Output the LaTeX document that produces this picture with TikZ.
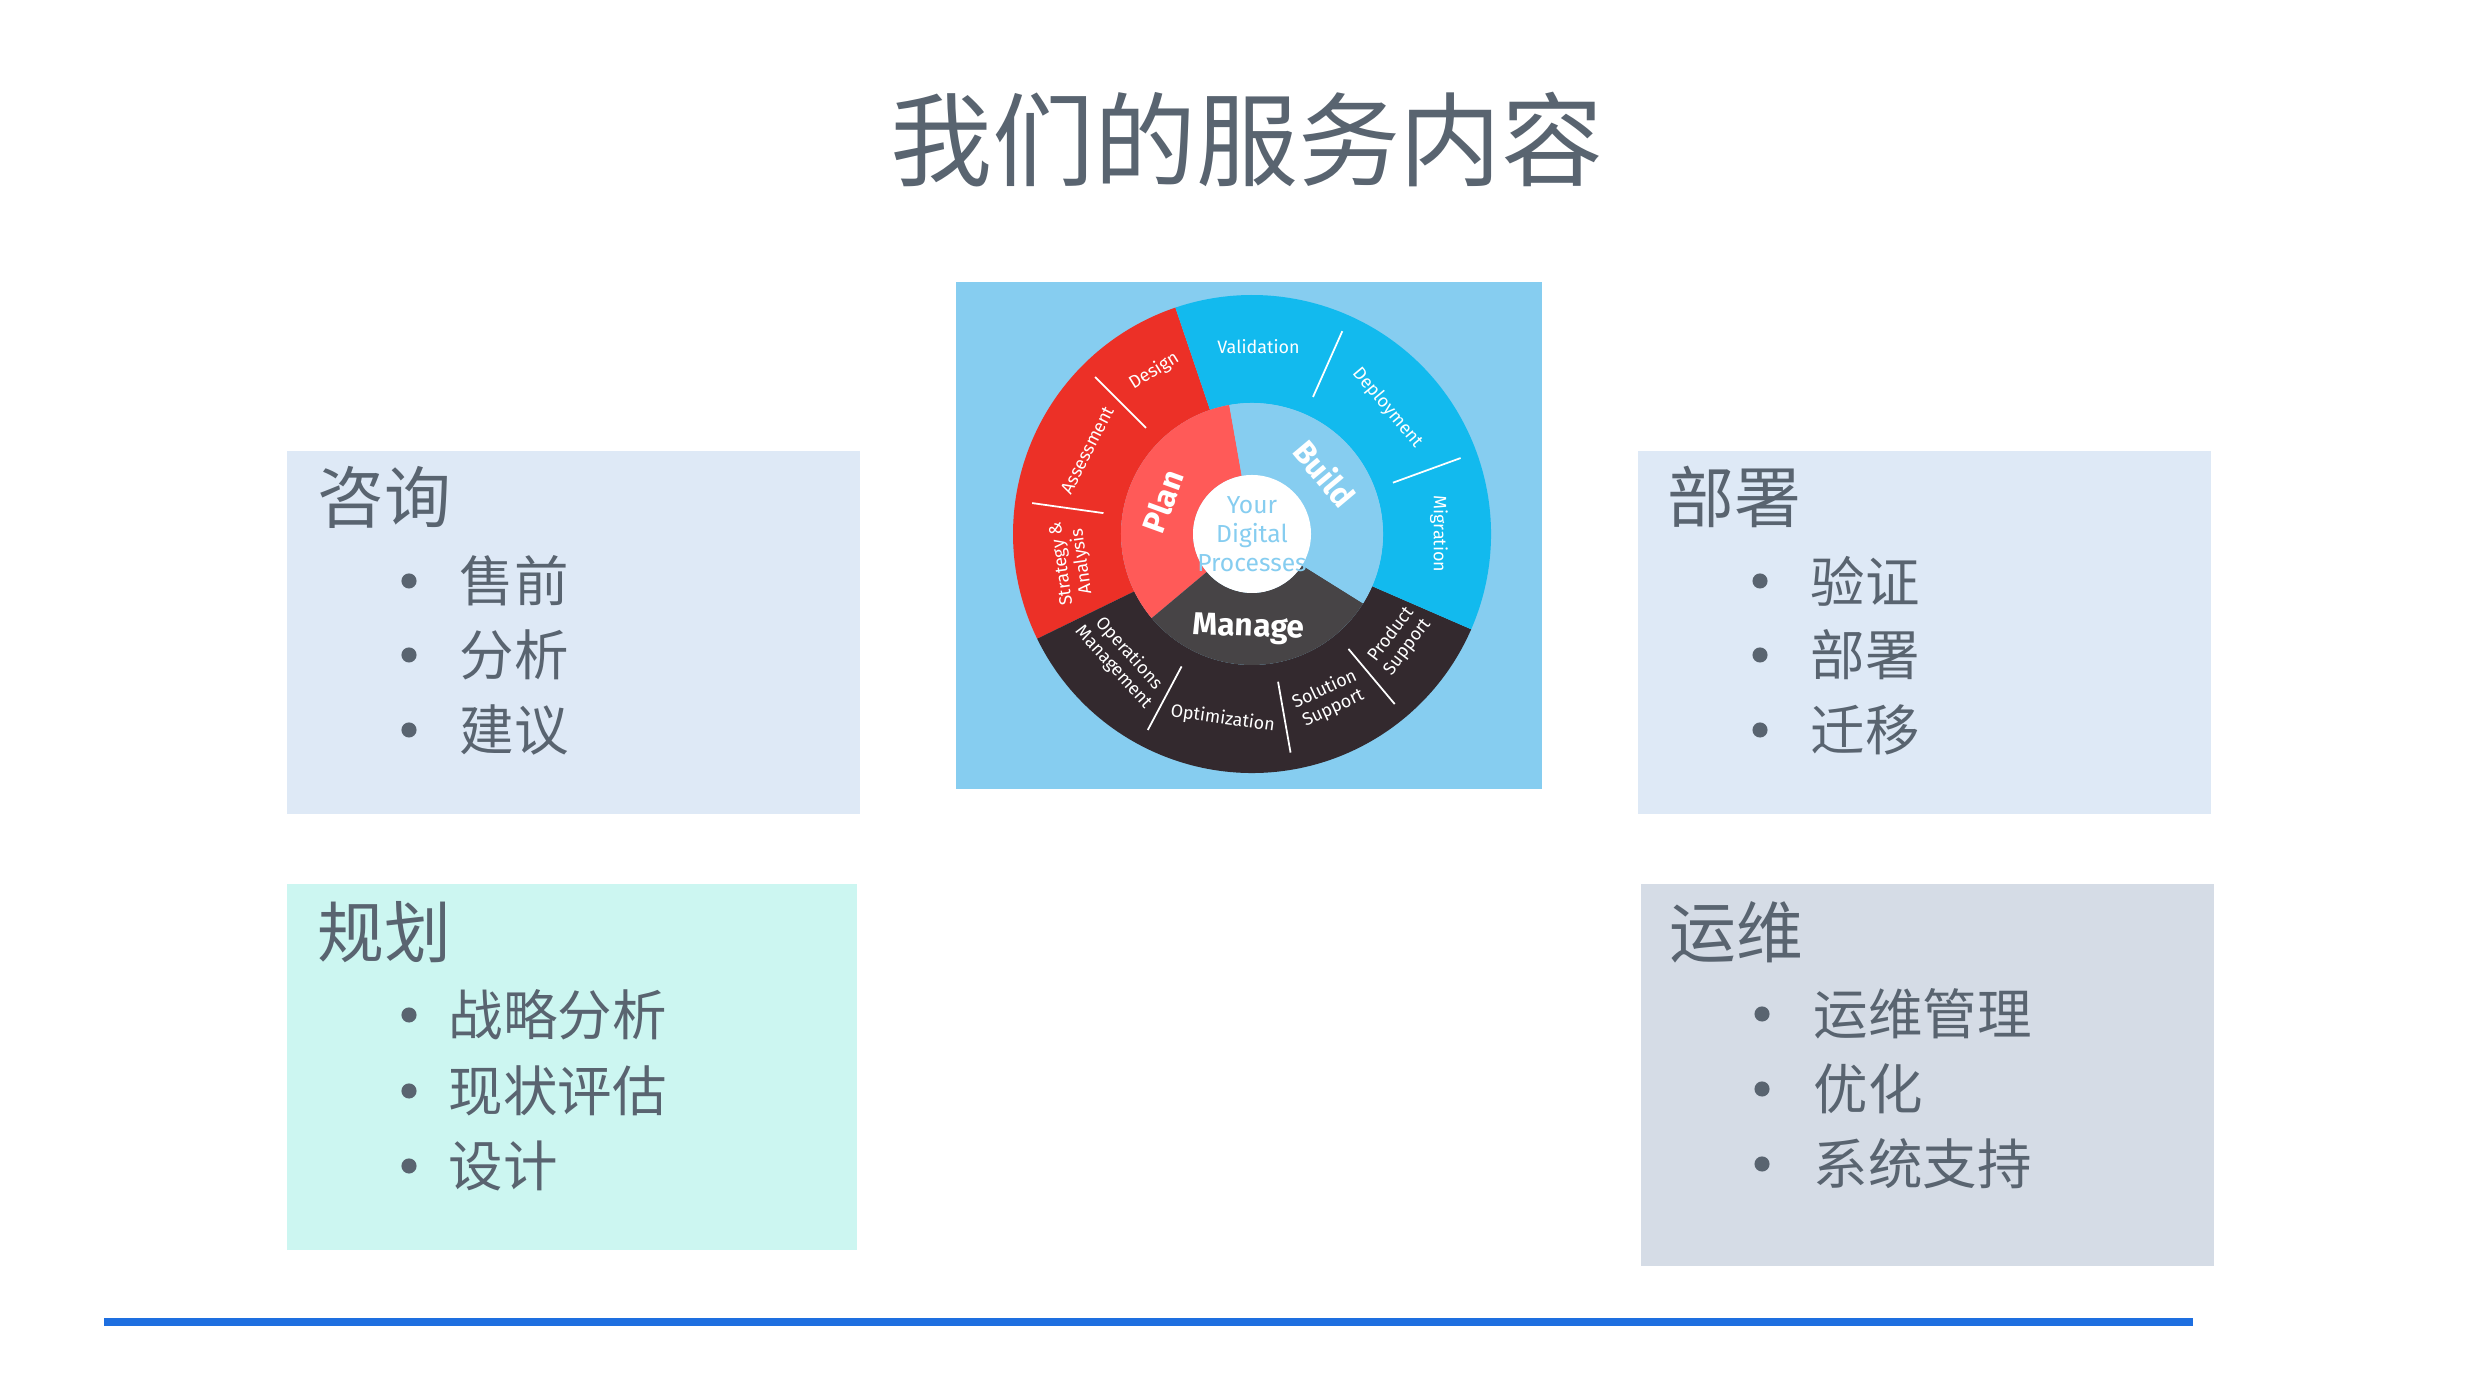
\documentclass[tikz,border=0pt]{standalone}
\usepackage{fontspec}
\setmainfont{Fira Sans}
\newfontfamily\cjk{Noto Sans CJK SC}
\usetikzlibrary{calc}
\definecolor{titlec}{HTML}{596470}
\definecolor{boxa}{HTML}{DEE9F6}
\definecolor{boxb}{HTML}{CCF6F1}
\definecolor{boxc}{HTML}{D5DCE6}
\definecolor{wbg}{HTML}{86CDF0}
\definecolor{wred}{HTML}{EC3027}
\definecolor{wred2}{HTML}{FF5A58}
\definecolor{wblue}{HTML}{12BAEE}
\definecolor{wblue2}{HTML}{86CDF0}
\definecolor{wdark}{HTML}{33292E}
\definecolor{wdark2}{HTML}{474446}
\definecolor{linec}{HTML}{1E6FE0}
\tikzset{
 head/.style={font=\cjk\fontsize{19}{23}\selectfont, text=titlec, anchor=west, inner sep=0},
 item/.style={font=\cjk\fontsize{15.5}{19}\selectfont, text=titlec, anchor=west, inner sep=0},
 dot/.style={circle, fill=titlec, inner sep=0, minimum size=4.3pt},
 wl/.style={font=\fontsize{5.1}{5.8}\selectfont, text=white, align=center, inner sep=0},
 wb/.style={font=\bfseries\fontsize{9}{11}\selectfont, text=white, inner sep=0},
 div/.style={white, line width=0.5pt},
}
\begin{document}
\begin{tikzpicture}[x=0.01cm,y=0.01cm]
\useasboundingbox (0,0) rectangle (2469,1385);
\fill[white] (0,0) rectangle (2469,1385);
\node[font=\cjk\fontsize{29}{35}\selectfont, text=titlec] (title) at (1247,1245) {我们的服务内容};
% boxes
\fill[boxa] (287,571) rectangle (860,934);
\fill[boxb] (287,135) rectangle (857,501);
\fill[boxa] (1638,571) rectangle (2211,934);
\fill[boxc] (1641,119) rectangle (2214,501);
\node[head] (h1) at (317,888) {咨询};
\node[head] (h2) at (317,453) {规划};
\node[head] (h3) at (1667,888) {部署};
\node[head] (h4) at (1669,453) {运维};
\foreach \t/\y [count=\i] in {售前/804,分析/730,建议/655}{
 \node[dot] (d1\i) at (409,\y) {}; \node[item] (i1\i) at (459,\y) {\t};}
\foreach \t/\y [count=\i] in {战略分析/370,现状评估/294,设计/219}{
 \node[dot] (d2\i) at (409,\y) {}; \node[item] (i2\i) at (448,\y) {\t};}
\foreach \t/\y [count=\i] in {验证/804,部署/730,迁移/655}{
 \node[dot] (d3\i) at (1760,\y) {}; \node[item] (i3\i) at (1810,\y) {\t};}
\foreach \t/\y [count=\i] in {运维管理/371,优化/296,系统支持/221}{
 \node[dot] (d4\i) at (1762,\y) {}; \node[item] (i4\i) at (1813,\y) {\t};}
\fill[linec] (104,59) rectangle (2193,67);
% wheel
\fill[wbg] (956,596) rectangle (1542,1103);
\coordinate (C) at (1252,851);
\foreach \a/\b/\r/\R/\c in {108.7/206/131/239/wred, 206/336.5/131/239/wdark, -23.5/108.7/131/239/wblue,
  100/220/59/131/wred2, 220/328/59/131/wdark2, 328/460/59/131/wblue2}{
 \fill[\c] ($(C)+(\a:\R)$) arc[start angle=\a,end angle=\b,radius=\R] -- ($(C)+(\b:\r)$) arc[start angle=\b,end angle=\a,radius=\r] -- cycle;}
\fill[white] (C) circle (59);
\foreach \a in {135,172,66,20,-50,-80,-118}{
 \draw[div] ($(C)+(\a:150)$) -- ($(C)+(\a:222)$);}
\node[wl, rotate=0] (lv) at ($(C)+(88:187)$) {Validation};
\node[wl, rotate=32] (ld) at ($(C)+(121:190)$) {Design};
\node[wl, rotate=63] (la) at ($(C)+(153:185)$) {Assessment};
\node[wl, rotate=98] (ls) at ($(C)+(189:182)$) {Strategy \&\\Analysis};
\node[wl, rotate=-50] (lde) at ($(C)+(43:185)$) {Deployment};
\node[wl, rotate=-90] (lm) at ($(C)+(0:187)$) {Migration};
\node[wl, rotate=-48] (lo) at ($(C)+(-136:182)$) {Operations\\Management};
\node[wl, rotate=-8] (lop) at ($(C)+(-99:187)$) {Optimization};
\node[wl, rotate=25] (lso) at ($(C)+(-65:182)$) {Solution\\Support};
\node[wl, rotate=53] (lp) at ($(C)+(-36:182)$) {Product\\Support};
\node[wb, rotate=70] (plan) at ($(C)+(160:95)$) {Plan};
\node[wb, rotate=-50] (build) at ($(C)+(40:95)$) {Build};
\node[wb, rotate=-2] (manage) at ($(C)+(-92:95)$) {Manage};
\node[font=\fontsize{7}{8.2}\selectfont, text=wblue2, align=center, inner sep=0] (ctr) at (C) {Your\\Digital\\Processes};
\end{tikzpicture}
\end{document}
